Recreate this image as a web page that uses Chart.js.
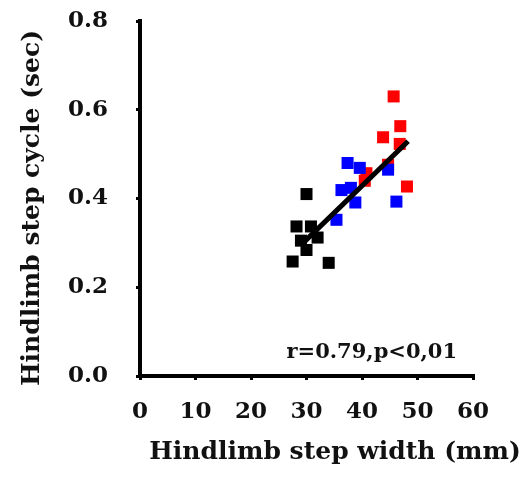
<!DOCTYPE html>
<html>
<head>
<meta charset="utf-8">
<script src="https://cdn.jsdelivr.net/npm/chart.js@4.4.0/dist/chart.umd.min.js"></script>
<style>
  html, body { margin: 0; padding: 0; background: #fff; }
  #stepchart { display: block; }
</style>
</head>
<body>
<canvas id="stepchart" width="526" height="477"></canvas>
<script>
// step width (mm) vs step cycle (sec), three groups
const blackWidth = [30.0, 28.2, 30.8, 32.0, 29.0, 30.0, 27.5, 34.0];
const blackCycle = [0.410, 0.337, 0.337, 0.312, 0.305, 0.284, 0.258, 0.255];

const blueWidth = [37.4, 39.6, 36.3, 38.0, 38.8, 35.4, 46.2, 44.7];
const blueCycle = [0.480, 0.469, 0.419, 0.424, 0.391, 0.352, 0.393, 0.465];

const redWidth = [45.7, 46.9, 43.8, 46.8, 44.7, 40.8, 40.5, 48.1];
const redCycle = [0.630, 0.563, 0.538, 0.523, 0.476, 0.457, 0.440, 0.427];

// regression line end points
const fitWidth = [29.4, 48.3];
const fitCycle = [0.300, 0.529];

const xTicks = [0, 10, 20, 30, 40, 50, 60];
const yTicks = [0.0, 0.2, 0.4, 0.6, 0.8];

const statText = 'r=0.79,p<0,01';
const xTitle = 'Hindlimb step width (mm)';
const yTitle = 'Hindlimb step cycle (sec)';

const pts = (xs, ys) => xs.map((x, i) => ({ x: x, y: ys[i] }));

const serif = '"DejaVu Serif", "Liberation Serif", serif';

// axis titles and the r/p note
const textPlugin = {
  id: 'stepText',
  afterDraw(chart) {
    const ctx = chart.ctx;
    const x = chart.scales.x;
    const y = chart.scales.y;
    ctx.save();
    ctx.fillStyle = '#111';

    ctx.font = 'bold 21px ' + serif;
    ctx.textAlign = 'left';
    ctx.textBaseline = 'alphabetic';
    ctx.fillText(statText, x.getPixelForValue(26.4), y.getPixelForValue(0.04));

    ctx.font = 'bold 25px ' + serif;
    ctx.textAlign = 'center';
    ctx.textBaseline = 'middle';
    ctx.fillText(xTitle, 335, 452);

    ctx.translate(32, 208);
    ctx.rotate(-Math.PI / 2);
    ctx.fillText(yTitle, 0, 0);
    ctx.restore();
  }
};

new Chart(document.getElementById('stepchart'), {
  type: 'scatter',
  data: {
    datasets: [
      {
        type: 'line',
        data: pts(fitWidth, fitCycle),
        borderColor: '#000',
        borderWidth: 5,
        pointRadius: 0,
        fill: false,
      },
      {
        data: pts(blackWidth, blackCycle),
        backgroundColor: '#000',
        pointStyle: 'rect',
        pointRadius: 8.5,
        borderWidth: 0,
      },
      {
        data: pts(blueWidth, blueCycle),
        backgroundColor: '#0000ff',
        pointStyle: 'rect',
        pointRadius: 8.5,
        borderWidth: 0,
      },
      {
        data: pts(redWidth, redCycle),
        backgroundColor: '#ff0000',
        pointStyle: 'rect',
        pointRadius: 8.5,
        borderWidth: 0,
      },
    ],
  },
  options: {
    responsive: false,
    animation: false,
    layout: {
      padding: { left: 0, top: 21, right: 53, bottom: 0 },
    },
    plugins: {
      legend: { display: false },
      tooltip: { enabled: false },
    },
    scales: {
      x: {
        type: 'linear',
        min: xTicks[0],
        max: xTicks[xTicks.length - 1],
        afterFit: (scale) => { scale.height = 101; },
        afterBuildTicks: (scale) => { scale.ticks = xTicks.map((v) => ({ value: v })); },
        grid: { drawOnChartArea: false, drawTicks: true, tickLength: 4, color: '#000', lineWidth: 3 },
        border: { display: true, color: '#000', width: 4 },
        ticks: {
          color: '#111',
          padding: 18,
          font: { family: serif, size: 23, weight: 'bold' },
        },
      },
      y: {
        type: 'linear',
        min: yTicks[0],
        max: yTicks[yTicks.length - 1],
        afterFit: (scale) => {
          // the wide label gap should not push the plot down
          scale.width = 140;
          scale.paddingTop = 14;
          scale.paddingBottom = 14;
        },
        afterBuildTicks: (scale) => { scale.ticks = yTicks.map((v) => ({ value: v })); },
        grid: { drawOnChartArea: false, drawTicks: true, tickLength: 4, color: '#000', lineWidth: 3 },
        border: { display: true, color: '#000', width: 4 },
        ticks: {
          color: '#111',
          padding: 28,
          font: { family: serif, size: 23, weight: 'bold' },
          callback: (v) => v.toFixed(1),
        },
      },
    },
  },
  plugins: [textPlugin],
});
</script>
</body>
</html>
